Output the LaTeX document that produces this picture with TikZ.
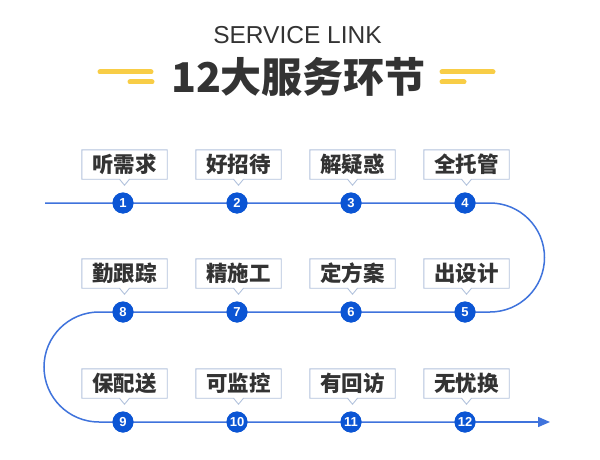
\documentclass[tikz,border=0pt]{standalone}
\usepackage{fontspec}
\setmainfont{Liberation Sans}
\newfontfamily\cjk{Noto Sans CJK SC}
\usetikzlibrary{arrows.meta,calc}
\definecolor{lineblue}{HTML}{3F73DC}
\definecolor{dotblue}{HTML}{0B55D4}
\definecolor{boxline}{HTML}{B3C3DD}
\definecolor{txt}{HTML}{333333}
\definecolor{baryellow}{HTML}{F8CD46}
\tikzset{
  flow/.style={draw=lineblue, line width=1.5pt},
  dot/.style={circle, fill=dotblue, minimum size=21pt, inner sep=0pt, text=white,
    font=\fontsize{13}{13}\selectfont\bfseries},
  lbl/.style={minimum width=85pt, minimum height=29pt, inner sep=0pt, text=txt,
    font=\cjk\fontsize{21.5}{21.5}\selectfont\bfseries},
  lblframe/.style={draw=boxline, line width=0.9pt, fill=white},
  deco/.style={draw=baryellow, line width=5pt, line cap=round}
}
\newcommand{\tagbox}[1]{%
  \path[lblframe] (#1.south west) -- (#1.north west) -- (#1.north east) -- (#1.south east)
    -- ($(#1.south)+(5,0)$) -- ($(#1.south)+(0,6)$) -- ($(#1.south)+(-5,0)$) -- cycle;}
\begin{document}
\begin{tikzpicture}[x=1pt,y=-1pt]
\useasboundingbox[fill=white] (0,0) rectangle (600,460);
% title
\node[text=txt, font=\fontsize{24.5}{24.5}\selectfont] (sub) at (297.5,35) {SERVICE LINK};
\node[text=txt, font=\cjk\fontsize{41}{41}\selectfont\bfseries] (title) at (298.5,77) {12大服务环节};
\draw[deco] (100,72) -- (151,72);
\draw[deco] (130,82) -- (152,82);
\draw[deco] (442,72) -- (493,72);
\draw[deco] (442,82) -- (464,82);
% path anchors
\coordinate (start) at (45,203);
\coordinate (r1) at (490,203);
\coordinate (l1) at (99,312);
\coordinate (finish) at (550,422);
% dots
\node[dot] (n1) at (123,203) {1};
\node[dot] (n2) at (237,203) {2};
\node[dot] (n3) at (351,203) {3};
\node[dot] (n4) at (465,203) {4};
\node[dot] (n5) at (465,312) {5};
\node[dot] (n6) at (351,312) {6};
\node[dot] (n7) at (237,312) {7};
\node[dot] (n8) at (123,312) {8};
\node[dot] (n9) at (123,422) {9};
\node[dot] (n10) at (237,422) {10};
\node[dot] (n11) at (351,422) {11};
\node[dot] (n12) at (465,422) {12};
% connector
\draw[flow] (start) -- (n1.center) -- (n2.center) -- (n3.center) -- (n4.center) -- (r1)
  arc[start angle=-90, end angle=90, radius=54.5] -- (n5.center) -- (n6.center) -- (n7.center)
  -- (n8.center) -- (l1) arc[start angle=-90, end angle=-270, radius=55]
  -- (n9.center) -- (n10.center) -- (n11.center) -- (n12.center);
\draw[flow, -{Triangle[length=12pt,width=10pt]}] (n12.center) -- (finish);
% dots on top of the connector
\foreach \i in {1,...,12}
  \node[dot] at (n\i) {\i};
% labels
\node[lbl] (t1) at (124.5,164.5) {};
\node[lbl] (t2) at (238.5,164.5) {};
\node[lbl] (t3) at (352.5,164.5) {};
\node[lbl] (t4) at (466.5,164.5) {};
\node[lbl] (t5) at (466.5,273.5) {};
\node[lbl] (t6) at (352.5,273.5) {};
\node[lbl] (t7) at (238.5,273.5) {};
\node[lbl] (t8) at (124.5,273.5) {};
\node[lbl] (t9) at (124.5,383.5) {};
\node[lbl] (t10) at (238.5,383.5) {};
\node[lbl] (t11) at (352.5,383.5) {};
\node[lbl] (t12) at (466.5,383.5) {};
\foreach \i in {1,...,12} {\tagbox{t\i}}
\node[lbl] at (t1) {听需求};
\node[lbl] at (t2) {好招待};
\node[lbl] at (t3) {解疑惑};
\node[lbl] at (t4) {全托管};
\node[lbl] at (t5) {出设计};
\node[lbl] at (t6) {定方案};
\node[lbl] at (t7) {精施工};
\node[lbl] at (t8) {勤跟踪};
\node[lbl] at (t9) {保配送};
\node[lbl] at (t10) {可监控};
\node[lbl] at (t11) {有回访};
\node[lbl] at (t12) {无忧换};
\end{tikzpicture}
\end{document}
